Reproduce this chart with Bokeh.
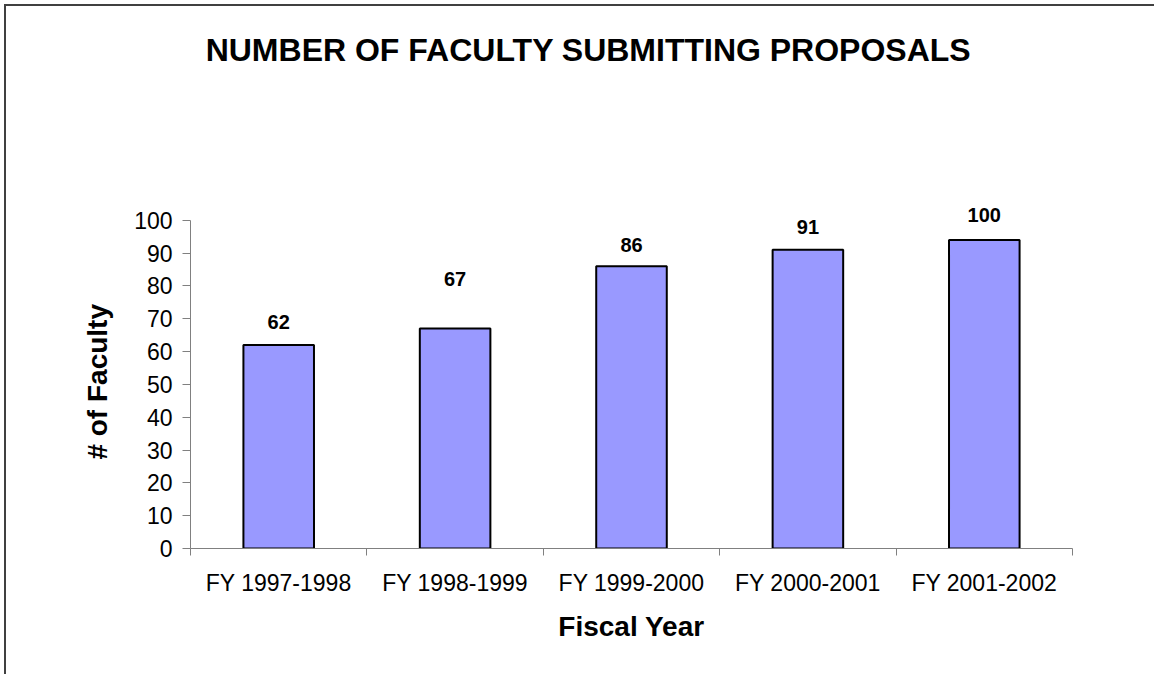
from bokeh.plotting import figure
from bokeh.models import FixedTicker, LabelSet, ColumnDataSource, Range1d, LinearAxis
from bokeh.core.properties import value
from bokeh.embed import file_html
from bokeh.resources import INLINE

# ---- data ----
categories = ["FY 1997-1998", "FY 1998-1999", "FY 1999-2000", "FY 2000-2001", "FY 2001-2002"]
faculty = [62, 67, 86, 91, 94]
value_labels = ["62", "67", "86", "91", "100"]
y_ticks = [0, 10, 20, 30, 40, 50, 60, 70, 80, 90, 100]
title_text = "NUMBER OF FACULTY SUBMITTING PROPOSALS"
x_title = "Fiscal Year"
y_title = "# of Faculty"

# ---- layout ----
label_offsets_px = [23, 50, 21, 23, 25]
FONT = "Liberation Sans"
TITLE_X = 2.256   # horizontal centre of the chart title, in category units
YTITLE_Y = 50.8   # vertical centre of the y title, in value units

xc = [i + 0.5 for i in range(len(categories))]
src = ColumnDataSource(dict(x=xc, top=faculty, txt=value_labels, off=label_offsets_px))

W, H = 1150, 670
p = figure(width=W, height=H, output_backend="svg", toolbar_location=None,
           x_range=Range1d(0, len(categories)), y_range=Range1d(0, 110),
           min_border_left=184, min_border_right=W - 1066,
           min_border_top=181, min_border_bottom=H - 542)
p.styles = {"border-top": "2px solid #404040", "border-left": "2px solid #404040",
            "margin-top": "4px", "margin-left": "4px"}
p.outline_line_color = None
p.grid.visible = False
p.background_fill_color = "white"
p.border_fill_color = "white"

p.vbar(x="x", top="top", bottom=0, width=0.4, source=src,
       fill_color="#9999FF", line_color="black", line_width=2)

p.add_layout(LabelSet(x="x", y="top", text="txt", y_offset="off", source=src,
                      text_align="center", text_baseline="middle",
                      text_font=value(FONT), text_font_size="20px", text_font_style="bold",
                      text_color="black"))

# y axis
ya = p.yaxis[0]
ya.ticker = FixedTicker(ticks=y_ticks)
ya.bounds = (0, 100)
ya.axis_line_color = "#808080"
ya.major_tick_line_color = "#808080"
ya.major_tick_out = 8
ya.major_tick_in = 0
ya.minor_tick_line_color = None
ya.major_label_standoff = 10
ya.major_label_text_font = FONT
ya.major_label_text_font_size = "23px"
ya.major_label_text_color = "black"

# x axis
xa = p.xaxis[0]
xa.ticker = FixedTicker(ticks=xc, minor_ticks=list(range(len(categories) + 1)))
xa.major_label_overrides = {x: c for x, c in zip(xc, categories)}
xa.bounds = (0, len(categories))
xa.axis_line_color = "#808080"
xa.major_tick_line_color = None
xa.major_tick_out = 0
xa.major_tick_in = 0
xa.minor_tick_line_color = "#808080"
xa.minor_tick_out = 7
xa.minor_tick_in = 0
xa.major_label_standoff = 14
xa.major_label_text_font = FONT
xa.major_label_text_font_size = "23px"
xa.major_label_text_color = "black"
xa.axis_label = x_title
xa.axis_label_standoff = 12
xa.axis_label_text_font = FONT
xa.axis_label_text_font_size = "28px"
xa.axis_label_text_font_style = "bold"
xa.axis_label_text_color = "black"

# chart title, drawn as the single label of a bare axis above the frame
ta = LinearAxis(ticker=FixedTicker(ticks=[TITLE_X]),
                major_label_overrides={TITLE_X: title_text},
                axis_line_color=None, major_tick_line_color=None,
                minor_tick_line_color=None, major_tick_out=0, major_tick_in=0,
                major_label_standoff=120, major_label_text_font=FONT,
                major_label_text_font_size="32px", major_label_text_font_style="bold",
                major_label_text_color="black")
p.add_layout(ta, "above")

# y title, drawn as the single vertical label of a bare axis left of the y axis
yt = LinearAxis(ticker=FixedTicker(ticks=[YTITLE_Y]),
                major_label_overrides={YTITLE_Y: y_title},
                major_label_orientation="vertical",
                axis_line_color=None, major_tick_line_color=None,
                minor_tick_line_color=None, major_tick_out=0, major_tick_in=0,
                major_label_standoff=18, major_label_text_font=FONT,
                major_label_text_font_size="28px", major_label_text_font_style="bold",
                major_label_text_color="black")
p.add_layout(yt, "left")

open("out.html", "w").write(file_html(p, INLINE))
